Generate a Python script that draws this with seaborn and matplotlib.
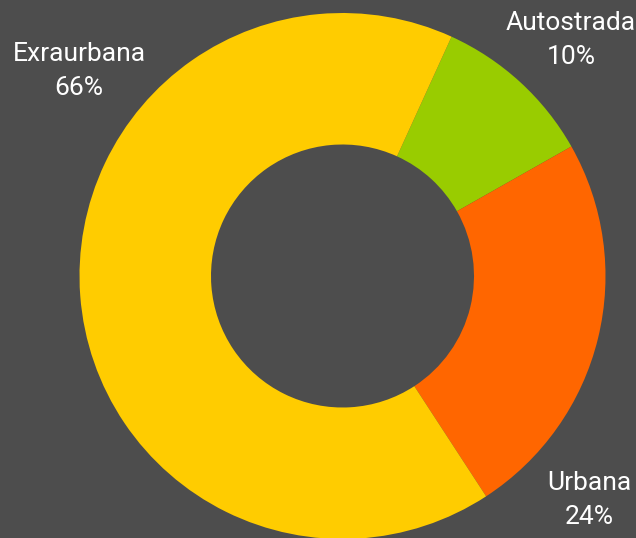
import matplotlib
matplotlib.use("Agg")
import matplotlib.pyplot as plt
import seaborn as sns

# ---- data ----
categories = ["Autostrada", "Urbana", "Exraurbana"]
shares = [10, 24, 66]
pct_labels = ["10%", "24%", "66%"]
slice_colors = ["#99cc00", "#ff6600", "#ffcc00"]

BG = "#4d4d4d"

sns.set_theme(style="dark", rc={"figure.facecolor": BG, "axes.facecolor": BG,
                               "savefig.facecolor": BG})
plt.rcParams["font.family"] = ["Roboto", "DejaVu Sans"]

palette = sns.color_palette(slice_colors)

fig = plt.figure(figsize=(6.36, 5.38), dpi=100)
ax = fig.add_axes([0, 0, 1, 1])
ax.set_facecolor(BG)

# geometry in pixels of the reference (center, outer radius)
cx, cy, R = 342.5, 276.0, 263.0
W, H = 636, 538

ax.pie(shares, colors=palette, startangle=65.5, counterclock=False,
       radius=1.0, wedgeprops=dict(width=0.5, linewidth=0))

ax.set_xlim(-cx / R, (W - cx) / R)
ax.set_ylim((cy - H) / R, cy / R)
ax.set_aspect("auto")
ax.axis("off")

# label anchor positions (pixel coords of the reference)
label_px = {"Autostrada": (571, 40), "Urbana": (589, 500), "Exraurbana": (79, 71)}
for cat, pct in zip(categories, pct_labels):
    px, py = label_px[cat]
    fig.text(px / W, 1 - py / H, f"{cat}\n{pct}", color="white",
             fontsize=19, ha="center", va="center", linespacing=1.5)

fig.savefig("out.png", dpi=100, facecolor=BG)
